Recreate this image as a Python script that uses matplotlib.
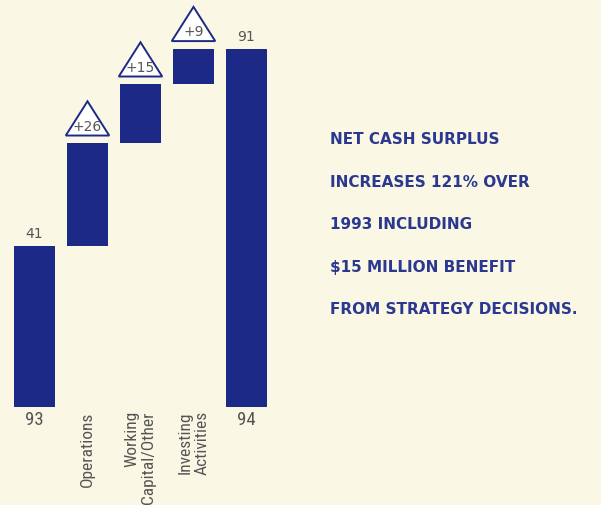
import matplotlib
matplotlib.use("Agg")
import matplotlib.pyplot as plt
from matplotlib.patches import Polygon
from matplotlib import font_manager

# cash surplus bridge, 1993 -> 1994 ($ millions)
start_label = "93"
end_label = "94"
start_value = 41
end_value = 91
step_labels = ["Operations", "Working\nCapital/Other", "Investing\nActivities"]
step_values = [26, 15, 9]

note_lines = [
    "NET CASH SURPLUS",
    "INCREASES 121% OVER",
    "1993 INCLUDING",
    "$15 MILLION BENEFIT",
    "FROM STRATEGY DECISIONS.",
]

paper = "#faf7e4"
navy = "#1c2987"
ink = "#555555"
note_blue = "#2b3890"

# narrow face for the chart labels, if one is around
names = {f.name for f in font_manager.fontManager.ttflist}
narrow = dict(family="DejaVu Sans", stretch="condensed")
for cand in ["Liberation Sans Narrow", "Roboto Condensed"]:
    if cand in names:
        narrow = dict(family=cand)
        break

fig = plt.figure(figsize=(6.01, 5.06), dpi=100, facecolor=paper)
ax = fig.add_axes([8 / 601, 98 / 506, 265 / 601, 408 / 506])
ax.set_facecolor(paper)
ax.set_xlim(-0.5, 4.5)
ax.set_ylim(0, 103.7)
ax.axis("off")

width = 0.77

# opening and closing totals
n = len(step_values) + 2
ax.bar([0, n - 1], [start_value, end_value], width=width, color=navy)

# floating increments
base = start_value
for i, v in enumerate(step_values, start=1):
    ax.bar(i, v, bottom=base, width=width, color=navy)
    top = base + v
    # triangle badge above the increment
    tb = top + 2.0
    th = 8.7
    tw = 0.41
    tri = Polygon([(i - tw, tb), (i + tw, tb), (i, tb + th)], closed=True,
                  facecolor="white", edgecolor=navy, lw=1.4, zorder=3)
    ax.add_patch(tri)
    ax.text(i, tb + 2.5, f"+{v}", ha="center", va="center", fontsize=10,
            color=ink, zorder=4)
    base = top

# totals on top of the end bars
ax.text(0, start_value + 3.3, str(start_value), ha="center", va="center",
        fontsize=10, color=ink)
ax.text(n - 1, end_value + 3.3, str(end_value), ha="center", va="center",
        fontsize=10, color=ink)

# category labels below the bars
ax.text(0, -0.8, start_label, ha="center", va="top", fontsize=13.5,
        color=ink, clip_on=False, **narrow)
ax.text(n - 1, -0.8, end_label, ha="center", va="top", fontsize=13.5,
        color=ink, clip_on=False, **narrow)
for i, lab in enumerate(step_labels, start=1):
    ax.text(i, -0.8, lab, ha="center", va="top", rotation=90,
            multialignment="right", fontsize=12.5, color=ink,
            linespacing=1.15, clip_on=False, **narrow)

# headline note on the right
for k, line in enumerate(note_lines):
    y = 140 + k * 42.5
    fig.text(330 / 601, 1 - y / 506, line, ha="left", va="center",
             fontsize=11, fontweight="bold", color=note_blue)

fig.savefig("out.png", dpi=100, facecolor=paper)
